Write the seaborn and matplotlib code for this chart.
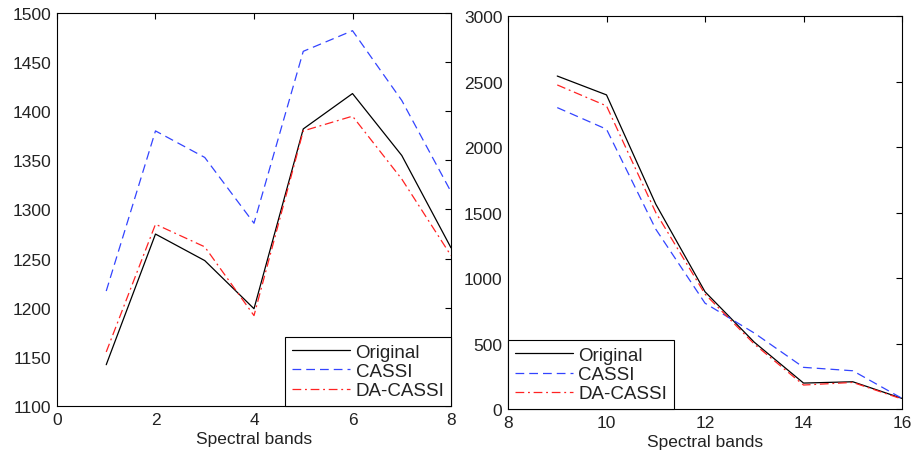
import pandas as pd
import numpy as np
import matplotlib
matplotlib.use("Agg")
import matplotlib.pyplot as plt
import seaborn as sns

bands_a = [1, 2, 3, 4, 5, 6, 7, 8]
original_a = [1142, 1275, 1248, 1199, 1382, 1418, 1355, 1261]
cassi_a = [1217, 1380, 1353, 1286, 1461, 1482, 1411, 1318]
dacassi_a = [1155, 1285, 1262, 1192, 1380, 1395, 1331, 1253]

bands_b = [9, 10, 11, 12, 13, 14, 15, 16]
original_b = [2542, 2398, 1564, 895, 510, 198, 208, 81]
cassi_b = [2301, 2136, 1373, 808, 580, 318, 292, 81]
dacassi_b = [2474, 2314, 1500, 877, 496, 183, 203, 76]

sns.set_style("white")
plt.rcParams["font.family"] = ["Liberation Sans", "DejaVu Sans"]
plt.rcParams["font.size"] = 12.5

fig = plt.figure(figsize=(9.13, 4.52), dpi=100)
ax1 = fig.add_axes([0.0624, 0.0996, 0.4316, 0.8694])
ax2 = fig.add_axes([0.5564, 0.0929, 0.4316, 0.8694])

styles = [("Original", "black", "-"), ("CASSI", "#3344ff", (0, (7, 4))),
          ("DA-CASSI", "#ff2222", (0, (7, 3, 1.5, 3)))]

def draw(ax, bands, series, xlim, ylim, xticks, yticks, loc):
    for (name, color, ls), vals in zip(styles, series):
        sns.lineplot(x=bands, y=vals, ax=ax, color=color, linestyle=ls,
                     linewidth=0.9, label=name)
    ax.set_xlim(xlim)
    ax.set_ylim(ylim)
    ax.set_xticks(xticks)
    ax.set_yticks(yticks)
    ax.set_xlabel("Spectral bands", fontsize=12.5, labelpad=3, color="#222222")
    ax.set_ylabel("")
    ax.tick_params(direction="in", length=4, width=0.8, top=True, right=True,
                   labelsize=12.5, pad=4, color="black", labelcolor="#222222")
    for s in ax.spines.values():
        s.set_color("black")
        s.set_linewidth(0.8)
    leg = ax.legend(loc=loc, borderaxespad=0, fancybox=False, framealpha=1,
                    edgecolor="black", fontsize=13.5, handlelength=3.1,
                    labelspacing=0.12, borderpad=0.35, handletextpad=0.3)
    for t in leg.get_texts():
        t.set_color("#222222")
    leg.get_frame().set_linewidth(0.8)

draw(ax1, bands_a, [original_a, cassi_a, dacassi_a], (0, 8), (1100, 1500),
     [0, 2, 4, 6, 8], np.arange(1100, 1501, 50), "lower right")
draw(ax2, bands_b, [original_b, cassi_b, dacassi_b], (8, 16), (0, 3000),
     [8, 10, 12, 14, 16], np.arange(0, 3001, 500), "lower left")

fig.savefig("out.png", dpi=100)
